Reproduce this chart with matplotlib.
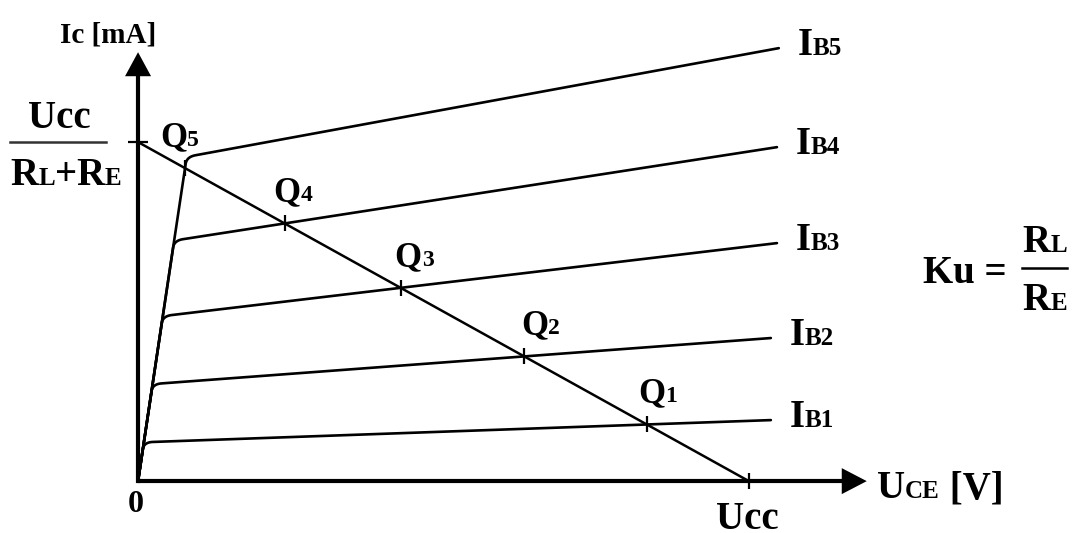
import numpy as np
import matplotlib
matplotlib.use('Agg')
import matplotlib.pyplot as plt
from matplotlib.transforms import IdentityTransform

plt.rcParams['font.family'] = ['Liberation Serif', 'DejaVu Serif']

# ============================================================
# data: Ucc = 10 V, Ucc/(RL+RE) = 10 mA
# ============================================================
ucc = 10.0
ic_max = 10.0
sat_slope = 12.0                               # saturation line Ic/Uce
ib_names = ['B1', 'B2', 'B3', 'B4', 'B5']
ib_start = [1.14, 2.83, 4.78, 6.93, 9.30]      # flat part extended to Uce = 0
ib_end = [1.80, 4.22, 7.02, 9.85, 12.77]       # Ic at the right end
ib_end_u = [10.36, 10.36, 10.46, 10.46, 10.49]
q_names = ['1', '2', '3', '4', '5']
q_label_dx = [-9, -3, -6, -11, -25]            # label shift in px

BIG, SMALL = 28, 18
H = 533

fig = plt.figure(figsize=(10.72, 5.33), dpi=100)
ax = fig.add_axes([0, 0, 1, 1])
ax.set_xlim(-2.26, 15.29)
ax.set_ylim(-1.53, 14.19)
ax.axis('off')
fig.canvas.draw()
R = fig.canvas.get_renderer()


def to_px(u, i):
    return ax.transData.transform((u, i))


def to_data(p):
    return ax.transData.inverted().transform(p)


def rich(x, y, parts, ha='left'):
    # x, y in output pixels (y counted from top), y = baseline
    items = []
    for s, size in parts:
        t = fig.text(0, 0, s, fontsize=size, fontweight='bold',
                     transform=IdentityTransform(), va='baseline', ha='left')
        items.append((t, t.get_window_extent(R).width))
    total = sum(w for _, w in items)
    x0 = x - total / 2 if ha == 'center' else x
    for t, w in items:
        t.set_position((x0, H - y))
        x0 += w


def arrow_head(tip, direction, length=24, half=13):
    tip = np.array(tip, float)
    d = np.array(direction, float)
    n = np.array([-d[1], d[0]])
    base = tip - d * length
    pts = np.array([tip, base + n * half, base - n * half])
    ax.fill(*to_data(pts).T, color='black', lw=0)


# ---- characteristic curves with rounded knees ----
def ib_curve(i0, i1, u1, r_steep=7, r_flat=9):
    m = (i1 - i0) / u1
    uc = i0 / (sat_slope - m)
    O = to_px(0, 0)
    C = to_px(uc, sat_slope * uc)
    E = to_px(u1, i1)
    a = C + (O - C) / np.linalg.norm(O - C) * r_steep
    b = C + (E - C) / np.linalg.norm(E - C) * r_flat
    t = np.linspace(0, 1, 25)[:, None]
    bez = (1 - t) ** 2 * a + 2 * (1 - t) * t * C + t ** 2 * b
    return to_data(np.vstack([O, a, bez, b, E]))


k = ic_max / ucc
for name, i0, i1, u1 in zip(ib_names, ib_start, ib_end, ib_end_u):
    pts = ib_curve(i0, i1, u1)
    ax.plot(pts[:, 0], pts[:, 1], color='black', lw=1.9, solid_capstyle='round')
    ex, ey = to_px(u1, i1)
    rich(ex + 19, H - ey + 7, [('I', BIG), (name, SMALL)])

# ---- load line ----
ax.plot([0, ucc], [ic_max, 0], color='black', lw=1.8)

# ---- operating points ----
for qn, dx, i0, i1, u1 in zip(q_names, q_label_dx, ib_start, ib_end, ib_end_u):
    m = (i1 - i0) / u1
    uq = max(ic_max / (sat_slope + k), (ic_max - i0) / (m + k))
    iq = ic_max - k * uq
    ax.plot(uq, iq, marker='|', ms=11, mew=1.6, color='black')
    qx, qy = to_px(uq, iq)
    rich(qx + dx, H - qy - 22, [('Q', 25), (qn, 17)])

# ---- axes ----
y_tip = 12.65
x_tip = 11.93
ax.plot([0, 0], [0, y_tip - 0.5], color='black', lw=3.0)
ax.plot([0, x_tip - 0.3], [0, 0], color='black', lw=3.0, solid_capstyle='butt')
arrow_head(to_px(0, y_tip), (0, 1))
arrow_head(to_px(x_tip, 0), (1, 0), length=25)
ax.plot(ucc, 0, marker='|', ms=11, mew=1.6, color='black')
ax.plot(0, ic_max, marker='_', ms=15, mew=1.6, color='black')

# ---- texts ----
rich(60, 43, [('Ic [mA]', 21)])
ox, oy = to_px(0, 0)
rich(ox - 2, 512, [('0', 23)], ha='center')
ux, _ = to_px(ucc, 0)
rich(ux - 2, 529, [('Ucc', BIG)], ha='center')
rich(877, 498, [('U', BIG), ('CE', SMALL), (' [V]', BIG)])

# Ucc / (RL + RE)
rich(59, 128, [('Ucc', BIG)], ha='center')
fig.add_artist(plt.Line2D([10, 106], [H - 142, H - 142], color='#333333', lw=1.8,
                          transform=IdentityTransform()))
rich(66, 185, [('R', BIG), ('L', SMALL), ('+R', BIG), ('E', SMALL)], ha='center')

# Ku = RL / RE
rich(923, 283, [('Ku = ', BIG)])
fig.add_artist(plt.Line2D([1022, 1067], [H - 268, H - 268], color='black', lw=1.8,
                          transform=IdentityTransform()))
rich(1045, 252, [('R', BIG), ('L', SMALL)], ha='center')
rich(1045, 310, [('R', BIG), ('E', SMALL)], ha='center')

fig.savefig('out.png', dpi=100, facecolor='white')
